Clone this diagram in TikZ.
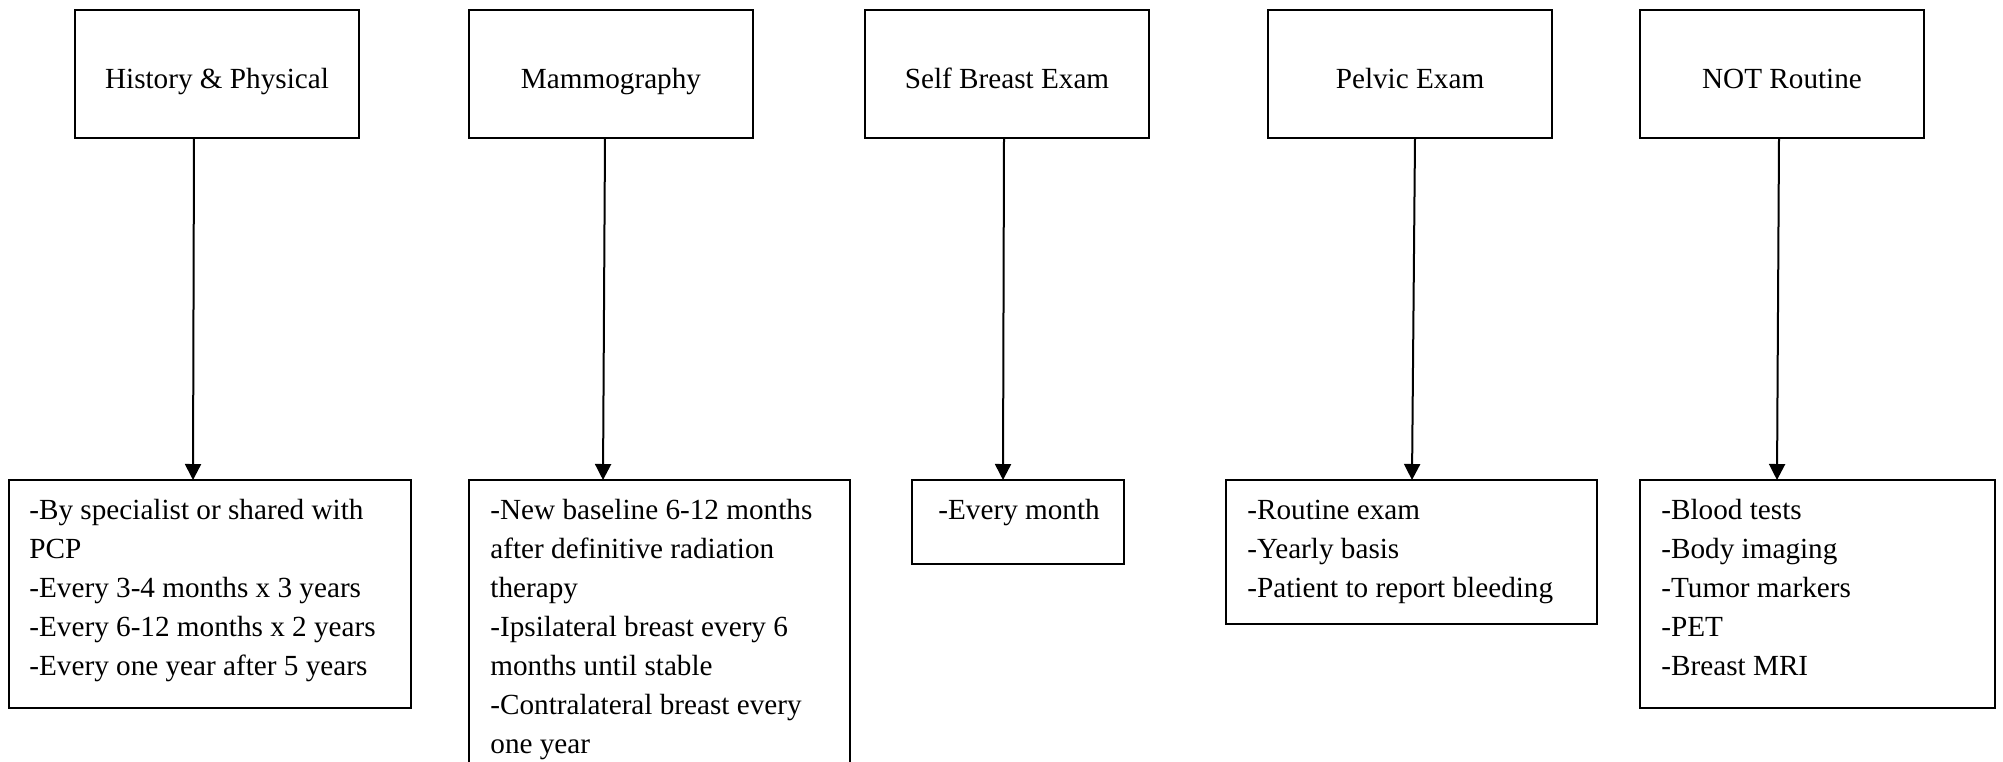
\documentclass[tikz,border=0pt]{standalone}
\usepackage{fontspec}
\setmainfont{Liberation Serif}
\usetikzlibrary{arrows.meta,calc}
\begin{document}
\begin{tikzpicture}[x=0.5pt,y=-0.5pt,
  box/.style={draw,line width=1pt,inner sep=0pt,outer sep=0pt,anchor=north west},
  topbox/.style={box,minimum width=142pt,minimum height=64pt},
  txt/.style={font=\fontsize{14.6}{19.5}\selectfont,inner sep=0pt,align=left,anchor=base west},
  ttl/.style={font=\fontsize{14.6}{19.5}\selectfont,inner sep=0pt,anchor=base},
  conn/.style={line width=1pt,-{Triangle[width=8pt,length=8pt]}}]
\useasboundingbox (0,0) rectangle (2003,761);
% top boxes
\node[topbox] (t1) at (75,10) {};
\node[topbox] (t2) at (469,10) {};
\node[topbox] (t3) at (865,10) {};
\node[topbox] (t4) at (1268,10) {};
\node[topbox] (t5) at (1640,10) {};
\node[ttl] (l1) at ($(t1.north)+(0,78)$) {History \& Physical};
\node[ttl] (l2) at ($(t2.north)+(0,78)$) {Mammography};
\node[ttl] (l3) at ($(t3.north)+(0,78)$) {Self Breast Exam};
\node[ttl] (l4) at ($(t4.north)+(0,78)$) {Pelvic Exam};
\node[ttl] (l5) at ($(t5.north)+(0,78)$) {NOT Routine};
% bottom boxes
\node[box,minimum width=201pt,minimum height=114pt] (b1) at (9,480) {};
\node[box,minimum width=190.5pt,minimum height=150pt] (b2) at (469,480) {};
\node[box,minimum width=106pt,minimum height=42pt] (b3) at (912,480) {};
\node[box,minimum width=185.5pt,minimum height=72pt] (b4) at (1226,480) {};
\node[box,minimum width=177.5pt,minimum height=114pt] (b5) at (1640,480) {};
% (base anchor of a multi-line node = baseline of its last line)
\node[txt] (x1) at ($(b1.north west)+(20,195)$) {-By specialist or shared with\\PCP\\-Every 3-4 months x 3 years\\-Every 6-12 months x 2 years\\-Every one year after 5 years};
\node[txt] (x2) at ($(b2.north west)+(21,273)$) {-New baseline 6-12 months\\after definitive radiation\\therapy\\-Ipsilateral breast every 6\\months until stable\\-Contralateral breast every\\one year};
\node[txt] (x3) at ($(b3.north west)+(26,39)$) {-Every month};
\node[txt] (x4) at ($(b4.north west)+(21,117)$) {-Routine exam\\-Yearly basis\\-Patient to report bleeding};
\node[txt] (x5) at ($(b5.north west)+(21,195)$) {-Blood tests\\-Body imaging\\-Tumor markers\\-PET\\-Breast MRI};
% connectors
\draw[conn] ($(t1.south)+(-23,0)$) -- ($(b1.north)+(-17,0)$);
\draw[conn] ($(t2.south)+(-6,0)$) -- ($(b2.north)+(-56.5,0)$);
\draw[conn] ($(t3.south)+(-3,0)$) -- ($(b3.north)+(-15,0)$);
\draw[conn] ($(t4.south)+(5,0)$) -- ($(b4.north)+(0.5,0)$);
\draw[conn] ($(t5.south)+(-3,0)$) -- ($(b5.north)+(-40.5,0)$);
\end{tikzpicture}
\end{document}
